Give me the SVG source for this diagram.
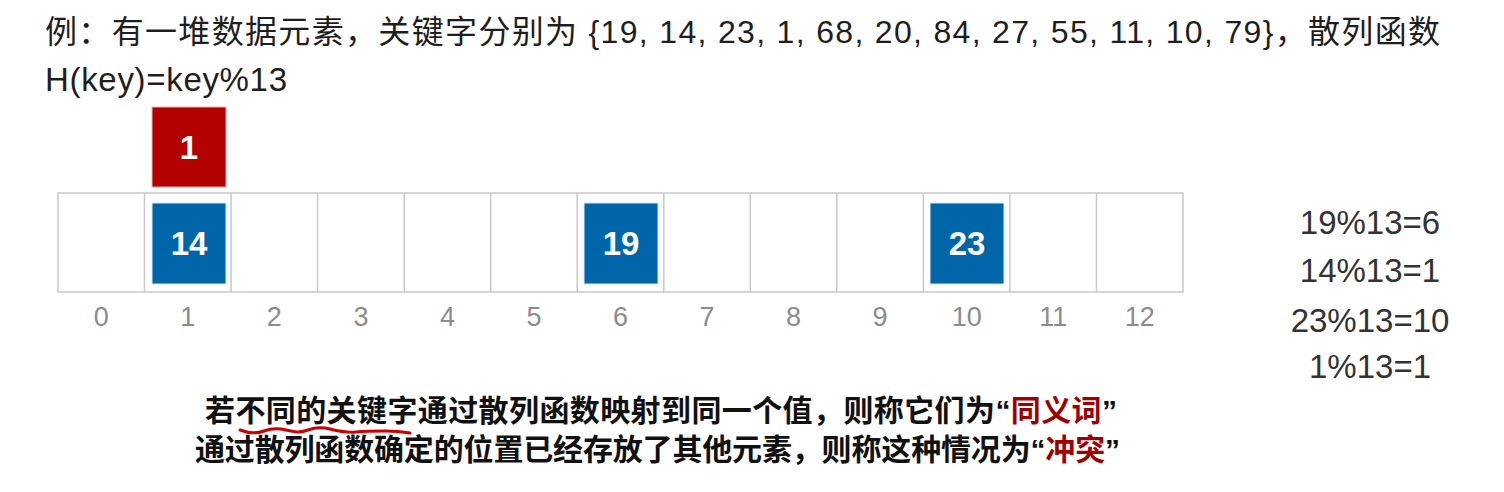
<svg xmlns="http://www.w3.org/2000/svg" width="1504" height="492" viewBox="0 0 1504 492">
<style>
.t{font-family:"Liberation Sans","Noto Sans CJK SC",sans-serif;fill:#1e1e1e}
.cell{fill:#fff;stroke:#c9c9c9;stroke-width:1.5}
.idx{font-family:"Liberation Sans",sans-serif;font-size:27px;fill:#8c8c8c;text-anchor:middle}
.blue{fill:#0066aa;stroke:#d6e6f2;stroke-width:1}
.red{fill:#b30000;stroke:#f0b0b0;stroke-width:1}
.num{font-family:"Liberation Sans",sans-serif;font-weight:bold;font-size:33px;fill:#fff;text-anchor:middle}
.eq{font-family:"Liberation Sans",sans-serif;font-size:33px;fill:#333;text-anchor:middle}
.b{font-family:"Liberation Sans","Noto Sans CJK SC",sans-serif;font-weight:bold;font-size:30px;fill:#111}
.hl{fill:#a00000}
</style>
<rect width="1504" height="492" fill="#fff"/>
<g id="title">
<text class="t" x="45" y="43" font-size="32" textLength="1395" lengthAdjust="spacing">例：有一堆数据元素，关键字分别为 {19, 14, 23, 1, 68, 20, 84, 27, 55, 11, 10, 79}，散列函数</text>
<text class="t" x="45" y="91" font-size="33" textLength="242" lengthAdjust="spacing">H(key)=key%13</text>
</g>
<g id="array">
<rect class="cell" x="58" y="193" width="1125" height="99"/>
<path d="M144.5 193V292M231.1 193V292M317.6 193V292M404.2 193V292M490.7 193V292M577.2 193V292M663.8 193V292M750.3 193V292M836.8 193V292M923.4 193V292M1009.9 193V292M1096.5 193V292" stroke="#c9c9c9" stroke-width="1.5" fill="none"/>
</g>
<g id="indices">
<text class="idx" x="101.3" y="326">0</text>
<text class="idx" x="187.8" y="326">1</text>
<text class="idx" x="274.3" y="326">2</text>
<text class="idx" x="360.9" y="326">3</text>
<text class="idx" x="447.4" y="326">4</text>
<text class="idx" x="534" y="326">5</text>
<text class="idx" x="620.5" y="326">6</text>
<text class="idx" x="707" y="326">7</text>
<text class="idx" x="793.6" y="326">8</text>
<text class="idx" x="880.1" y="326">9</text>
<text class="idx" x="966.7" y="326">10</text>
<text class="idx" x="1053.2" y="326">11</text>
<text class="idx" x="1139.8" y="326">12</text>
</g>
<g id="node-1">
<rect class="red" x="152" y="107" width="74" height="80"/>
<text class="num" x="189" y="159">1</text>
</g>
<g id="node-14">
<rect class="blue" x="152" y="203" width="74" height="81"/>
<text class="num" x="189" y="255">14</text>
</g>
<g id="node-19">
<rect class="blue" x="584" y="203" width="74" height="81"/>
<text class="num" x="621" y="255">19</text>
</g>
<g id="node-23">
<rect class="blue" x="930" y="203" width="74" height="81"/>
<text class="num" x="967" y="255">23</text>
</g>
<g id="calc">
<text class="eq" x="1370" y="234">19%13=6</text>
<text class="eq" x="1370" y="282">14%13=1</text>
<text class="eq" x="1370" y="332">23%13=10</text>
<text class="eq" x="1370" y="378">1%13=1</text>
</g>
<g id="notes">
<text class="b" x="205" y="421" textLength="912" lengthAdjust="spacing">若不同的关键字通过散列函数映射到同一个值，则称它们为“<tspan class="hl">同义词</tspan>”</text>
<text class="b" x="195" y="460" textLength="925" lengthAdjust="spacing">通过散列函数确定的位置已经存放了其他元素，则称这种情况为“<tspan class="hl">冲突</tspan>”</text>
</g>
<g id="connectors">
<path d="M240 430c8 3 16 4 24 1s14-3 22-1 14 3 22 0 14-3 22-1 16 4 26 3 20-1 30-1 18 1 24 2" fill="none" stroke="#cc0000" stroke-width="3" stroke-linecap="round"/>
</g>
</svg>
